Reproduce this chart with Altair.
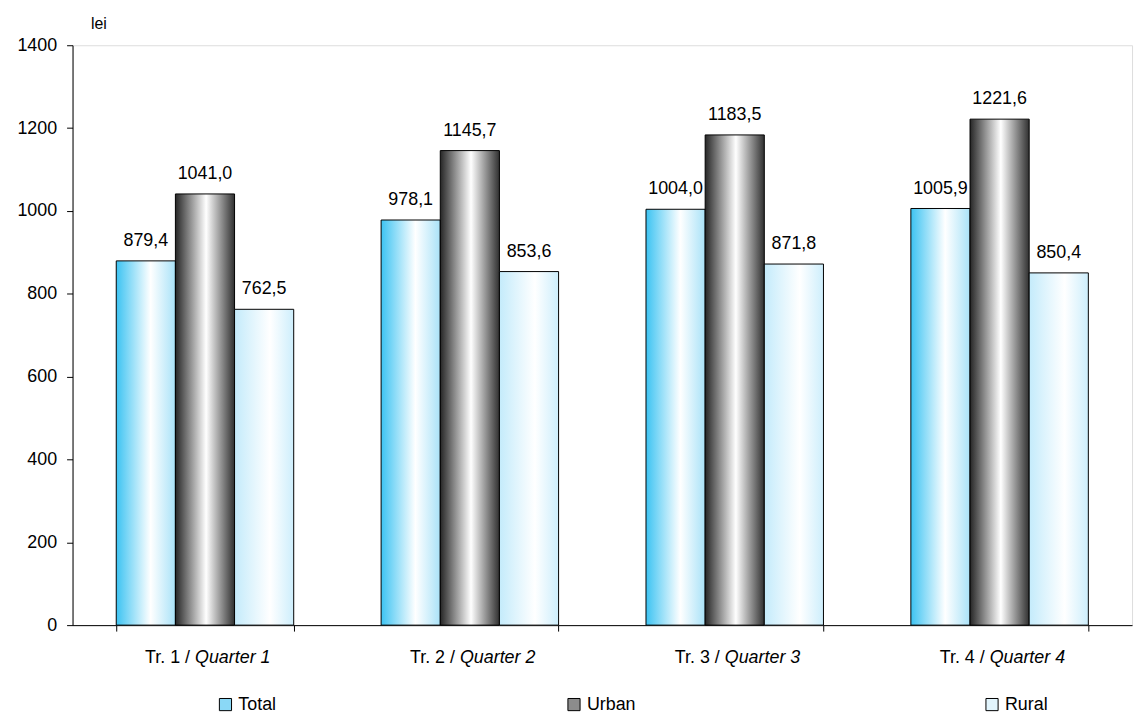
import altair as alt
import pandas as pd

quarters = ["Tr. 1", "Tr. 2", "Tr. 3", "Tr. 4"]
quarters_en = ["Quarter 1", "Quarter 2", "Quarter 3", "Quarter 4"]
series = ["Total", "Urban", "Rural"]
total = [879.4, 978.1, 1004.0, 1005.9]
urban = [1041.0, 1145.7, 1183.5, 1221.6]
rural = [762.5, 853.6, 871.8, 850.4]
y_ticks = [0, 200, 400, 600, 800, 1000, 1200, 1400]

rows = []
for s, vals in zip(series, [total, urban, rural]):
    for q, v in zip(quarters, vals):
        rows.append({"quarter": q, "series": s, "value": v,
                     "label": f"{v:.1f}".replace(".", ",")})
df = pd.DataFrame(rows)
qdf = pd.DataFrame({"quarter": quarters,
                    "tr": [q + " /" for q in quarters],
                    "en": quarters_en})

FONT = "Liberation Sans"
FS = 18

def grad(c_left, c_mid, c_right, mid=0.55):
    return alt.Gradient(
        gradient="linear", x1=0, y1=0, x2=1, y2=0,
        stops=[alt.GradientStop(color=c_left, offset=0),
               alt.GradientStop(color=c_mid, offset=mid),
               alt.GradientStop(color=c_right, offset=1)])

fills = {
    "Total": grad("#3cc3f2", "#ffffff", "#a9e2f8", 0.58),
    "Urban": grad("#262626", "#ffffff", "#303030", 0.52),
    "Rural": grad("#c4ebfb", "#ffffff", "#cdeefc", 0.6),
}
legend_colors = {"Total": "#8ad8f6", "Urban": "#8c8c8c", "Rural": "#e2f5fd"}

x_enc = alt.X("quarter:N",
              scale=alt.Scale(domain=quarters, paddingInner=0.33, paddingOuter=0.165),
              axis=alt.Axis(title="", labels=False, tickBand="extent", tickSize=6,
                            domainColor="black", tickColor="black", grid=False))
xo_enc = alt.XOffset("series:N", scale=alt.Scale(domain=series))
y_enc = alt.Y("value:Q",
              scale=alt.Scale(domain=[0, 1400], nice=False),
              axis=alt.Axis(title="lei", titleAngle=0, titleAlign="left",
                            titleX=18, titleY=-17, titleBaseline="alphabetic",
                            titleFontWeight="normal", titleFontSize=16, titleFont=FONT,
                            titleColor="black",
                            values=y_ticks, format="d", tickSize=6, labelPadding=10,
                            labelFontSize=FS, labelFont=FONT, labelColor="black",
                            domainColor="black", tickColor="black", grid=False))

base = alt.Chart(df).encode(x=x_enc, xOffset=xo_enc, y=y_enc)

layers = []
for s in series:
    layers.append(
        base.transform_filter(alt.datum.series == s)
        .mark_bar(fill=fills[s], stroke="black", strokeWidth=1)
    )

legend_common = dict(title=None, orient="none", direction="horizontal",
                     symbolType="square", symbolSize=150, symbolStrokeColor="black",
                     symbolStrokeWidth=1, symbolOpacity=1, labelFontSize=FS,
                     labelFont=FONT, labelColor="black", labelOffset=4)

dom_a = ["Total", "Urban"]
dom_b = ["Rural"]
legend_a = base.transform_filter(alt.FieldOneOfPredicate(field="series", oneOf=dom_a)).mark_square(
    opacity=0, filled=True).encode(
    color=alt.Color("series:N",
                    scale=alt.Scale(domain=dom_a, range=[legend_colors[s] for s in dom_a]),
                    legend=alt.Legend(legendX=145, legendY=655, columnPadding=290,
                                      **legend_common)))
legend_b = base.transform_filter(alt.FieldOneOfPredicate(field="series", oneOf=dom_b)).mark_square(
    opacity=0, filled=True).encode(
    fill=alt.Fill("series:N",
                  scale=alt.Scale(domain=dom_b, range=[legend_colors[s] for s in dom_b]),
                  legend=alt.Legend(legendX=917, legendY=655, **legend_common)))

value_labels = base.mark_text(dy=-15, fontSize=FS, font=FONT, color="black",
                              baseline="alphabetic").encode(text="label:N")

lab_tr = alt.Chart(qdf).mark_text(align="right", dx=-15, baseline="middle",
                                  fontSize=FS, font=FONT, color="black").encode(
    x=alt.X("quarter:N"), y=alt.value(617), text="tr:N")
lab_en = alt.Chart(qdf).mark_text(align="left", dx=-10, baseline="middle",
                                  fontSize=FS, font=FONT, fontStyle="italic",
                                  color="black").encode(
    x=alt.X("quarter:N"), y=alt.value(617), text="en:N")

chart = alt.layer(*layers, legend_a, legend_b, value_labels, lab_tr, lab_en).properties(
    width=1067, height=584,
    autosize=alt.AutoSizeParams(type="none"),
    padding={"left": 65, "top": 35, "right": 5, "bottom": 90},
).configure_view(strokeWidth=0).configure(font=FONT, background="white")

chart.save("out.html", embed_options={"renderer": "svg", "actions": False})
